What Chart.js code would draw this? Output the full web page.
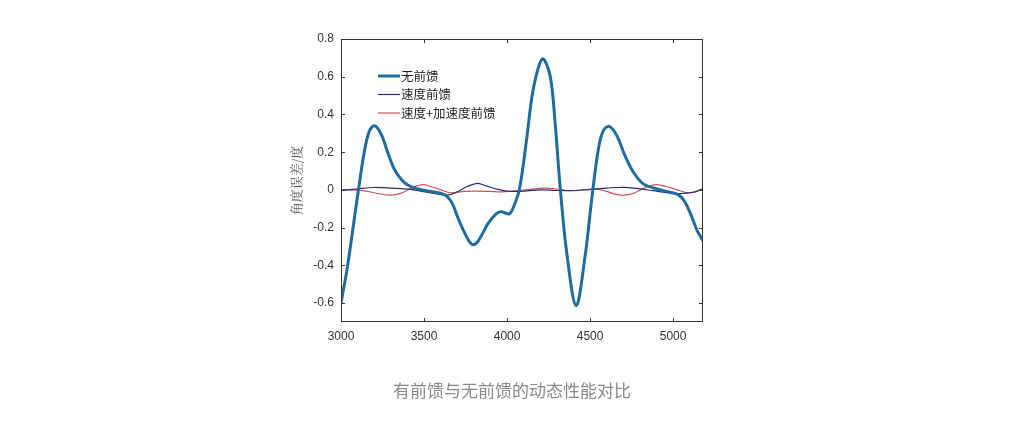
<!DOCTYPE html>
<html><head><meta charset="utf-8">
<script src="https://cdn.jsdelivr.net/npm/chart.js@4"></script>
<style>
html,body{margin:0;padding:0;background:#fff;}
#wrap{position:relative;width:1024px;height:422px;}
#cap{position:absolute;left:0;width:1024px;top:377px;text-align:center;font-family:"Noto Sans CJK SC","Noto Sans",sans-serif;font-size:17px;color:#8a8a8a;}
</style></head><body>
<div id="wrap"><canvas id="c" width="1024" height="422"></canvas>
<div id="cap">有前馈与无前馈的动态性能对比</div></div>
<script>
const seriesNames = ['无前馈','速度前馈','速度+加速度前馈'];
const xTicks = [3000,3500,4000,4500,5000];
const yTicks = [-0.6,-0.4,-0.2,0,0.2,0.4,0.6,0.8];
const yTitle = '角度误差/度';

const noFfX = [3000,3040,3080,3105,3140,3170,3201,3241,3281,3321,3361,3402,3462,3542,3602,3640,3672,3705,3740,3770,3793,3820,3850,3884,3934,3964,4014,4044,4076,4118,4158,4213,4259,4289,4319,4359,4416,4470,4510,4550,4580,4616,4661,4711,4761,4821,4902,4982,5030,5065,5102,5142,5180];
const noFfY = [-0.60,-0.40,-0.154,0,0.20,0.31,0.34,0.297,0.20,0.11,0.058,0.026,0.005,-0.008,-0.018,-0.035,-0.075,-0.15,-0.22,-0.27,-0.29,-0.278,-0.235,-0.18,-0.127,-0.115,-0.127,-0.08,0.01,0.27,0.535,0.694,0.606,0.36,0.023,-0.33,-0.613,-0.35,-0.048,0.217,0.314,0.337,0.288,0.18,0.094,0.032,0.005,-0.012,-0.025,-0.055,-0.12,-0.21,-0.27];

const velX = [3000,3100,3200,3300,3400,3480,3560,3640,3700,3760,3823,3880,3940,4000,4060,4120,4200,4300,4400,4500,4600,4700,4800,4880,4960,5040,5100,5140,5180];
const velY = [-0.003,0.006,0.013,0.01,0.004,-0.006,-0.018,-0.027,-0.01,0.018,0.035,0.02,0.004,-0.006,-0.008,-0.005,0,-0.003,-0.003,0.003,0.01,0.014,0.006,-0.004,-0.014,-0.02,-0.015,-0.008,0.008];

const accX = [3000,3120,3200,3290,3360,3402,3450,3492,3540,3602,3660,3740,3820,3900,3960,4020,4080,4140,4220,4300,4380,4460,4540,4600,4650,4700,4760,4820,4860,4902,4960,5020,5082,5130,5180];
const accY = [0,-0.002,-0.015,-0.028,-0.018,0,0.02,0.028,0.018,0,-0.015,-0.008,-0.006,-0.008,-0.01,-0.008,-0.003,0.003,0.01,0.005,-0.004,0,0.004,-0.008,-0.022,-0.027,-0.018,0.008,0.022,0.028,0.018,0.002,-0.015,-0.012,0.006];

const colors = ['#1f6c9e','#2a2c7c','#d4505a'];
const widths = [3,1.2,1.2];
const pts = (xs,ys)=>xs.map((x,i)=>({x:x,y:ys[i]}));

const frame = {
  id:'frame',
  afterDraw(chart){
    const ctx=chart.ctx, a=chart.chartArea, xs=chart.scales.x, ys=chart.scales.y;
    ctx.save();
    ctx.strokeStyle='#333'; ctx.lineWidth=1;
    ctx.strokeRect(a.left+0.5,a.top+0.5,a.right-a.left-1,a.bottom-a.top-1);
    ctx.beginPath();
    xTicks.forEach(v=>{const p=Math.round(xs.getPixelForValue(v))+0.5;
      ctx.moveTo(p,a.bottom);ctx.lineTo(p,a.bottom-4);ctx.moveTo(p,a.top);ctx.lineTo(p,a.top+4);});
    yTicks.forEach(v=>{const p=Math.round(ys.getPixelForValue(v))+0.5;
      ctx.moveTo(a.left,p);ctx.lineTo(a.left+4,p);ctx.moveTo(a.right,p);ctx.lineTo(a.right-4,p);});
    ctx.stroke();
    // legend
    ctx.font='12.5px "Noto Sans CJK SC",sans-serif';
    ctx.textBaseline='middle';
    const rows=[76,94.5,113];
    seriesNames.forEach((n,i)=>{
      ctx.strokeStyle=colors[i]; ctx.lineWidth=widths[i];
      ctx.beginPath(); ctx.moveTo(378,rows[i]); ctx.lineTo(400,rows[i]); ctx.stroke();
      ctx.fillStyle='#222'; ctx.fillText(n,401,rows[i]);
    });
    ctx.restore();
  }
};

new Chart(document.getElementById('c'),{
  type:'line',
  data:{datasets:[
    {label:seriesNames[0],data:pts(noFfX,noFfY),borderColor:colors[0],borderWidth:widths[0],pointRadius:0,tension:0.35,fill:false},
    {label:seriesNames[1],data:pts(velX,velY),borderColor:colors[1],borderWidth:widths[1],pointRadius:0,tension:0.35,fill:false},
    {label:seriesNames[2],data:pts(accX,accY),borderColor:colors[2],borderWidth:widths[2],pointRadius:0,tension:0.35,fill:false}
  ]},
  options:{
    responsive:false,animation:false,
    layout:{padding:{left:288,top:39,right:321,bottom:60}},
    plugins:{legend:{display:false},tooltip:{enabled:false}},
    scales:{
      x:{type:'linear',min:3000,max:5180,
        afterBuildTicks:s=>{s.ticks=xTicks.map(v=>({value:v}));},
        afterFit:s=>{s.height=40;},
        grid:{display:false,drawTicks:false},border:{display:false},
        ticks:{color:'#333',font:{family:'"Liberation Sans",Arial',size:12},padding:7,maxRotation:0,callback:v=>String(v)}},
      y:{type:'linear',min:-0.7,max:0.8,
        afterBuildTicks:s=>{s.ticks=yTicks.map(v=>({value:v}));},
        afterFit:s=>{s.width=53;},
        grid:{display:false,drawTicks:false},border:{display:false},
        title:{display:true,text:yTitle,color:'#555',font:{family:'"Noto Serif CJK SC","Noto Sans CJK SC",serif',size:13},padding:0},
        ticks:{color:'#333',font:{family:'"Liberation Sans",Arial',size:12},padding:7,callback:v=>String(Math.round(v*10)/10)}}
    }
  },
  plugins:[frame]
});
</script></body></html>
